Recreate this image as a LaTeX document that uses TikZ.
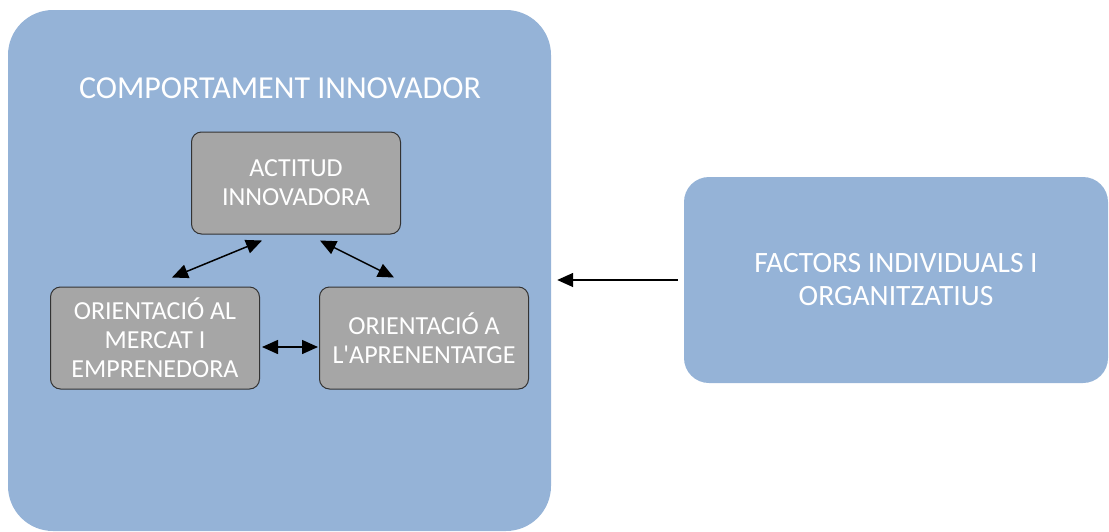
\documentclass[tikz,border=0pt]{standalone}
\usepackage{fontspec}
\setmainfont{Carlito}[Ligatures=TeXOff]
\usetikzlibrary{positioning, arrows.meta}

\definecolor{paleblue}{HTML}{95B3D7}
\definecolor{boxgray}{HTML}{A6A6A6}

\begin{document}
\begin{tikzpicture}[x=1pt, y=-1pt,
    groupbox/.style={fill=paleblue, rounded corners=#1, text=white, align=center},
    innerbox/.style={draw=black!80, fill=boxgray, rounded corners=10pt, line width=1pt,
        minimum width=209pt, minimum height=102pt, text=white, align=center,
        font=\fontsize{26}{29}\selectfont},
    link/.style={{Triangle[length=16pt,width=14pt]}-{Triangle[length=16pt,width=14pt]}, line width=1.5pt},
    node distance=59pt]

\useasboundingbox (0,0) rectangle (1109,531);

\node[groupbox=45pt, minimum width=543pt, minimum height=521pt](comportament) at (279.5,270.5){};
\node[text=white, font=\fontsize{32}{36}\selectfont](titol) at (280,88){COMPORTAMENT INNOVADOR};

\node[innerbox](actitud) at (296,183){ACTITUD\\INNOVADORA};
\node[innerbox](mercat) at (155,338){ORIENTACIÓ AL\\MERCAT I\\EMPRENEDORA};
\node[innerbox, right=of mercat](aprenentatge){ORIENTACIÓ A\\L'APRENENTATGE};

\node[groupbox=25pt, minimum width=424pt, minimum height=206pt,
    font=\fontsize{29.5}{33}\selectfont](factors) at (896,280){FACTORS INDIVIDUALS I\\ORGANITZATIUS};

\draw[link] ([xshift=-34pt,yshift=-6pt]actitud.south) -- ([xshift=17pt,yshift=9pt]mercat.north);
\draw[link] ([xshift=24pt,yshift=-6pt]actitud.south) -- ([xshift=-30pt,yshift=9pt]aprenentatge.north);
\draw[link] ([xshift=2pt,yshift=-9pt]mercat.east) -- ([xshift=-1pt,yshift=-9pt]aprenentatge.west);

\coordinate (dock) at (comportament.east |- factors.west);
\draw[-{Triangle[length=16pt,width=14pt]}, line width=1.5pt] ([xshift=-6pt]factors.west) -- ([xshift=6pt]dock);
\end{tikzpicture}
\end{document}
